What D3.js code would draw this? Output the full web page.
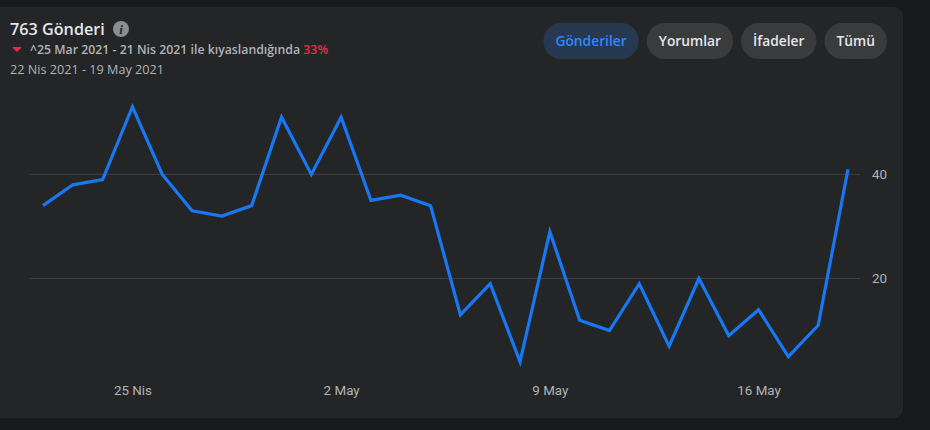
<!DOCTYPE html>
<meta charset="utf-8">
<script src="https://d3js.org/d3.v7.min.js"></script>
<style>
    html, body { margin: 0; padding: 0; background: #18191a; overflow: hidden; }
    svg { display: block; }
    .uiFont { font-family: "Open Sans", "Noto Sans", sans-serif; }
    .tick text { font-family: Roboto, "Liberation Sans", sans-serif; font-size: 13.4px; fill: #b0b3b8; }
</style>
<div id="chart"></div>
<script>
    // one label per day, 22 Nis - 19 May
    const days = ["22 Nis","23 Nis","24 Nis","25 Nis","26 Nis","27 Nis","28 Nis","29 Nis","30 Nis",
        "1 May","2 May","3 May","4 May","5 May","6 May","7 May","8 May","9 May","10 May","11 May",
        "12 May","13 May","14 May","15 May","16 May","17 May","18 May","19 May"];
    const posts = [34,38,39,53,40,33,32,34,51,40,51,35,36,34,13,19,4,29,12,10,19,7,20,9,14,5,11,41];
    const xLabels = ["25 Nis","2 May","9 May","16 May"];
    const yLabels = [20,40];
    const tabs = ["Gönderiler","Yorumlar","İfadeler","Tümü"];

    const width = 930, height = 430;

    const svg = d3.select("#chart").append("svg")
        .attr("width", width)
        .attr("height", height);

    // panel
    svg.append("rect")
        .attr("x", -12).attr("y", 7)
        .attr("width", 915).attr("height", 411)
        .attr("rx", 9)
        .attr("fill", "#242526");

    const x = d3.scalePoint().domain(days).range([43, 848]);
    const y = d3.scaleLinear().domain([0, 40]).range([382.6, 174.4]);

    // grid lines
    svg.selectAll(".grid")
        .data(yLabels)
        .join("line")
        .attr("class", "grid")
        .attr("x1", 30).attr("x2", 860)
        .attr("y1", d => y(d)).attr("y2", d => y(d))
        .attr("stroke", "#3e4042")
        .attr("stroke-width", 1);

    const yAxis = svg.append("g")
        .attr("transform", "translate(862,0)")
        .call(d3.axisRight(y).tickValues(yLabels).tickSize(0).tickPadding(10));
    yAxis.select(".domain").remove();

    const xAxis = svg.append("g")
        .attr("transform", "translate(0,382)")
        .call(d3.axisBottom(x).tickValues(xLabels).tickSize(0).tickPadding(3));
    xAxis.select(".domain").remove();

    svg.append("path")
        .datum(posts)
        .attr("fill", "none")
        .attr("stroke", "#1877f2")
        .attr("stroke-width", 3.2)
        .attr("stroke-linejoin", "miter")
        .attr("d", d3.line()
            .x((d, i) => x(days[i]))
            .y(d => y(d)));

    // header
    svg.append("text")
        .attr("class", "uiFont")
        .attr("x", 10).attr("y", 35)
        .attr("font-size", 16.2).attr("font-weight", 600)
        .attr("fill", "#e4e6eb")
        .text("763 Gönderi");

    svg.append("circle")
        .attr("cx", 121).attr("cy", 29).attr("r", 8)
        .attr("fill", "#8a8d91");
    svg.append("text")
        .attr("x", 121).attr("y", 33.5)
        .attr("text-anchor", "middle")
        .attr("font-family", "'Liberation Serif', serif")
        .attr("font-style", "italic").attr("font-weight", 700)
        .attr("font-size", 13)
        .attr("fill", "#242526")
        .text("i");

    svg.append("path")
        .attr("d", "M13,47.6 L21,47.6 L17,51.6 Z")
        .attr("fill", "#f02849")
        .attr("stroke", "#f02849")
        .attr("stroke-width", 1)
        .attr("stroke-linejoin", "round");

    const compare = svg.append("text")
        .attr("class", "uiFont")
        .attr("x", 30).attr("y", 54)
        .attr("font-size", 12.3).attr("font-weight", 600)
        .attr("fill", "#b0b3b8");
    compare.append("tspan").text("^25 Mar 2021 - 21 Nis 2021 ile kıyaslandığında ");
    compare.append("tspan").attr("fill", "#f02849").text("33%");

    svg.append("text")
        .attr("class", "uiFont")
        .attr("x", 10).attr("y", 74)
        .attr("font-size", 12.65)
        .attr("fill", "#b0b3b8")
        .text("22 Nis 2021 - 19 May 2021");

    // tab buttons, laid out from the right edge
    let right = 887;
    tabs.slice().reverse().forEach(function(name) {
        const active = name === tabs[0];
        const g = svg.append("g");
        const label = g.append("text")
            .attr("class", "uiFont")
            .attr("y", 46)
            .attr("text-anchor", "middle")
            .attr("font-size", 13.8).attr("font-weight", 600)
            .attr("fill", active ? "#2d88ff" : "#e4e6eb")
            .text(name);
        const w = label.node().getComputedTextLength() + 24;
        label.attr("x", right - w / 2);
        g.insert("rect", "text")
            .attr("x", right - w).attr("y", 23)
            .attr("width", w).attr("height", 36)
            .attr("rx", 18)
            .attr("fill", active ? "#263951" : "#3a3b3c");
        right -= w + 8;
    });
</script>
